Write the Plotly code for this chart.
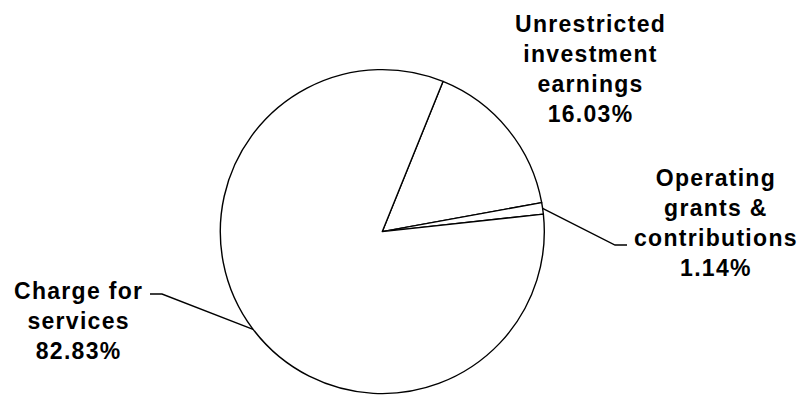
import math
import plotly.graph_objects as go

# Revenue shares (percent)
categories = ["Unrestricted investment earnings", "Operating grants & contributions", "Charge for services"]
label_lines = [
    ["Unrestricted", "investment", "earnings"],
    ["Operating", "grants &", "contributions"],
    ["Charge for", "services"],
]
shares = [16.03, 1.14, 82.83]

W, H = 803, 395
CX, CY, R = 382.3, 231.6, 162.0   # pie centre and radius in pixels
START = 22.0                      # first slice starts this many degrees clockwise from 12 o'clock

def px(x):
    return x / W

def py(y):
    return 1 - y / H

fig = go.Figure(go.Pie(
    labels=categories,
    values=shares,
    sort=False,
    direction="clockwise",
    rotation=START,
    textinfo="none",
    hoverinfo="label+percent",
    marker=dict(colors=["white"] * 3, line=dict(color="black", width=1.4)),
    domain=dict(x=[px(CX - R), px(CX + R)], y=[py(CY + R), py(CY - R)]),
    showlegend=False,
))

# mid angle of each slice, clockwise from 12 o'clock
total = sum(shares)
mids = []
acc = START
for v in shares:
    span = v / total * 360
    mids.append(acc + span / 2)
    acc += span

def rim(angle_deg):
    a = math.radians(angle_deg)
    return CX + R * math.sin(a), CY - R * math.cos(a)

# leader lines: from the slice rim to an elbow and a short horizontal tail
leaders = {1: [(615, 245), (627, 245)], 2: [(162, 294), (150, 294)]}
for i, pts in leaders.items():
    x0, y0 = rim(mids[i])
    path = f"M {px(x0)},{py(y0)}" + "".join(f" L {px(x)},{py(y)}" for x, y in pts)
    fig.add_shape(type="path", xref="paper", yref="paper", path=path,
                  line=dict(color="black", width=1.4))

LS = "letter-spacing:1.3px"
def label_text(lines, share):
    rows = lines + [f"{share:.2f}%"]
    return "<br>".join(f'<span style="{LS}">{r}</span>' for r in rows)

label_pos = [(590, 69), (716, 223), (78, 321)]
for lines, share, (lx, ly) in zip(label_lines, shares, label_pos):
    fig.add_annotation(
        x=px(lx), y=py(ly), xref="paper", yref="paper",
        text=label_text(lines, share), showarrow=False,
        xanchor="center", yanchor="middle", align="center",
        font=dict(family="Liberation Sans, Arial", size=23, color="black", weight="bold"),
    )

fig.update_layout(
    width=W, height=H,
    margin=dict(l=0, r=0, t=0, b=0),
    paper_bgcolor="white", plot_bgcolor="white",
)

fig.write_html("out.html")
